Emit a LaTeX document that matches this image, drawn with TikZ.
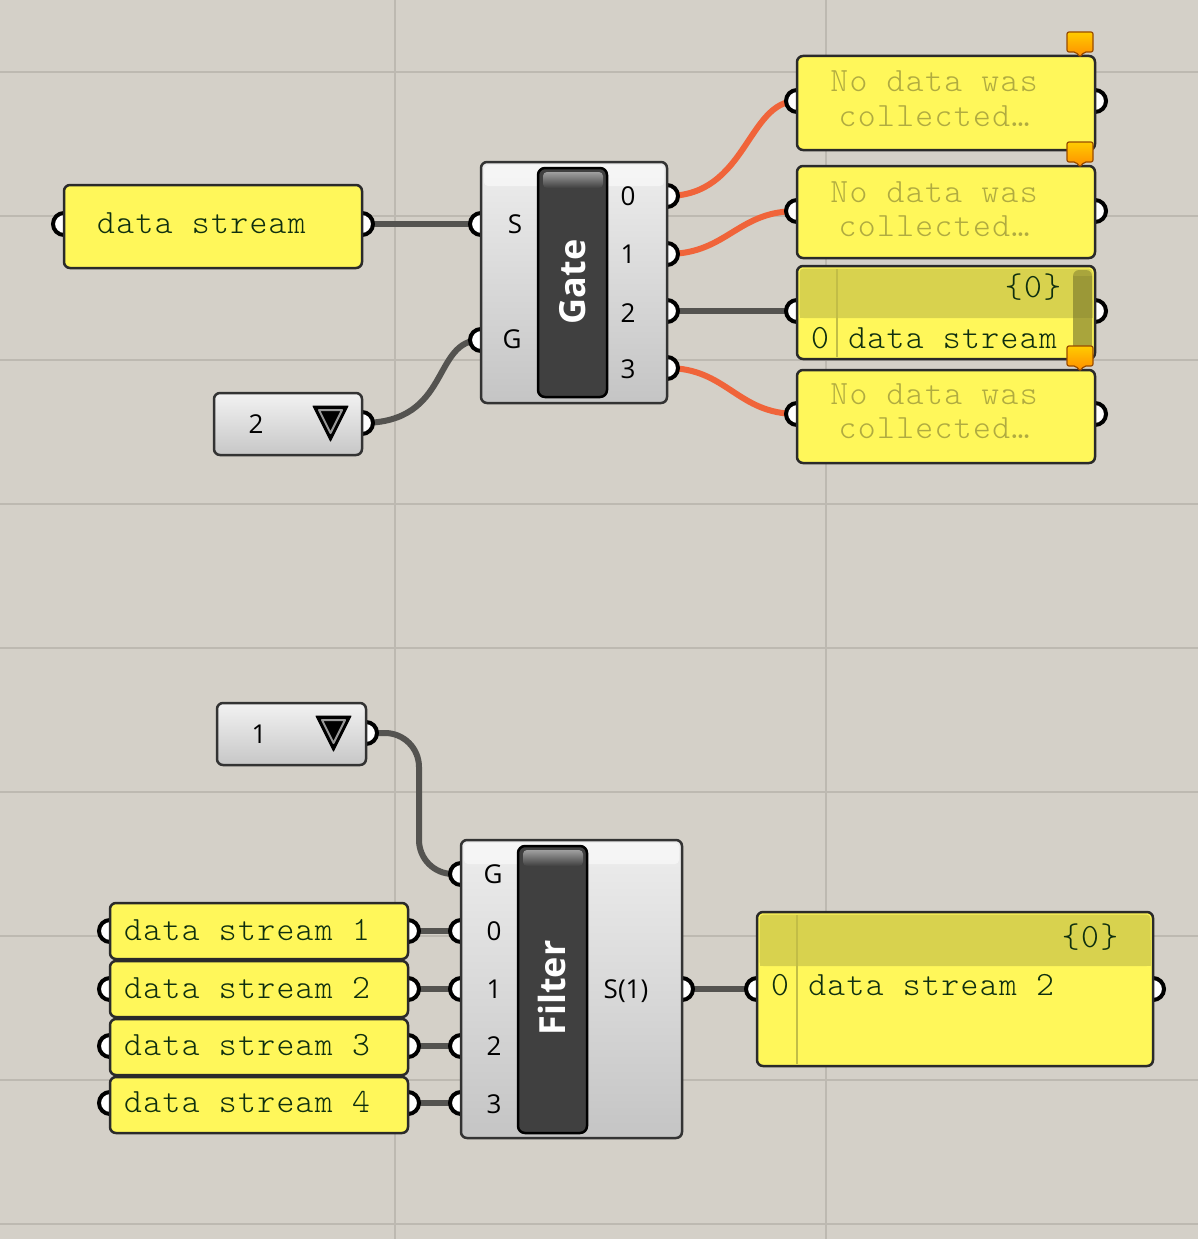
\documentclass[tikz,border=0pt]{standalone}
\usepackage{fontspec}
\setsansfont{Open Sans}
\newfontfamily\pmono{lmmonolt10-regular.otf}[LetterSpace=4]
\definecolor{bg}{HTML}{D4D0C8}
\definecolor{gridc}{HTML}{BDB9B1}
\definecolor{pyellow}{HTML}{FFF75A}
\definecolor{phdr}{HTML}{D8D24E}
\definecolor{pborder}{HTML}{2A2A2A}
\definecolor{ptxt}{HTML}{0F2F0F}
\definecolor{nodata}{HTML}{B0AB40}
\definecolor{cborder}{HTML}{333333}
\definecolor{barc}{HTML}{404040}
\definecolor{wgrey}{HTML}{545350}
\definecolor{worange}{HTML}{F0643A}
\definecolor{scroll}{HTML}{A9A53C}
\newcommand{\pmonofont}{\pmono\fontsize{34}{40}\selectfont}
\tikzset{
  panelbox/.style={draw=pborder, line width=2.5pt, fill=pyellow, rounded corners=6pt, inner sep=0pt},
  compbox/.style={draw=cborder, line width=2.5pt, top color=white!93!black, bottom color=white!77!black, rounded corners=6pt, inner sep=0pt},
  valbox/.style={draw=cborder, line width=2.5pt, top color=white!95!black, bottom color=white!78!black, rounded corners=6pt, inner sep=0pt},
  barbox/.style={draw=black, line width=2.5pt, fill=barc, rounded corners=7pt, inner sep=0pt},
  grip/.style={circle, draw=black, fill=white, line width=4pt, minimum size=22pt, inner sep=0pt},
  wire/.style={line width=6pt, wgrey},
  owire/.style={line width=6pt, worange},
  pinlbl/.style={font=\sffamily\fontsize{26}{30}\selectfont, text=black, inner sep=0pt, anchor=base},
  ttlbl/.style={font=\pmonofont, text=ptxt, inner sep=0pt},
  ndlbl/.style={font=\pmonofont, text=nodata, inner sep=0pt, anchor=base},
  titlelbl/.style={font=\sffamily\bfseries\fontsize{36}{40}\selectfont, text=white, rotate=90, inner sep=0pt},
  balloon/.style={draw=orange!60!black, line width=1.2pt, top color=yellow!60!orange, bottom color=orange!90!yellow, rounded corners=2pt},
}
\begin{document}
\begin{tikzpicture}[x=1pt,y=-1pt]
% canvas
\fill[bg] (0,0) rectangle (1198,1239);
\useasboundingbox (0,0) rectangle (1198,1239);
\foreach \yy in {72,216,360,504,648,792,936,1080,1224}
  \draw[gridc, line width=2pt] (0,\yy) -- (1198,\yy);
\foreach \xx in {395,826}
  \draw[gridc, line width=2pt] (\xx,0) -- (\xx,1239);

% grip coordinates
\coordinate (dsin) at (64,224);
\coordinate (dsout) at (362,224);
\coordinate (gS) at (481,224);
\coordinate (gG) at (481,340);
\coordinate (gO0) at (667,196);
\coordinate (gO1) at (667,254);
\coordinate (gO2) at (667,311);
\coordinate (gO3) at (667,368);
\coordinate (v2out) at (362,423);
\coordinate (pAin) at (797,101);
\coordinate (pAout) at (1095,101);
\coordinate (pBin) at (797,211);
\coordinate (pBout) at (1095,211);
\coordinate (pCin) at (797,311);
\coordinate (pCout) at (1095,311);
\coordinate (pDin) at (797,414);
\coordinate (pDout) at (1095,414);
\coordinate (v1out) at (366,733);
\coordinate (fG) at (461,874);
\coordinate (f0) at (461,931);
\coordinate (f1) at (461,989);
\coordinate (f2) at (461,1046);
\coordinate (f3) at (461,1103);
\coordinate (fout) at (682,989);
\coordinate (d1in) at (110,931);
\coordinate (d1out) at (408,931);
\coordinate (d2in) at (110,989);
\coordinate (d2out) at (408,989);
\coordinate (d3in) at (110,1046);
\coordinate (d3out) at (408,1046);
\coordinate (d4in) at (110,1103);
\coordinate (d4out) at (408,1103);
\coordinate (rin) at (757,989);
\coordinate (rout) at (1153,989);

% wires
\draw[wire] (dsout) -- (gS);
\draw[wire] (v2out) .. controls +(90,0) and +(-50,0) .. (gG);
\draw[owire] (gO0) .. controls +(80,0) and +(-50,0) .. (pAin);
\draw[owire] (gO1) .. controls +(60,0) and +(-60,0) .. (pBin);
\draw[wire] (gO2) -- (pCin);
\draw[owire] (gO3) .. controls +(60,0) and +(-60,0) .. (pDin);
\draw[wire, rounded corners=34pt] (v1out) -- ++(53,0) |- (fG);
\draw[wire] (d1out) -- (f0);
\draw[wire] (d2out) -- (f1);
\draw[wire] (d3out) -- (f2);
\draw[wire] (d4out) -- (f3);
\draw[wire] (fout) -- (rin);

% grips
\foreach \g in {dsin,dsout,gS,gG,gO0,gO1,gO2,gO3,v2out,pAin,pAout,pBin,pBout,pCin,pCout,pDin,pDout,v1out,fG,f0,f1,f2,f3,fout,d1in,d1out,d2in,d2out,d3in,d3out,d4in,d4out,rin,rout}
  \node[grip] (grip-\g) at (\g) {};

% ---------- top part ----------
\node[panelbox, minimum width=298pt, minimum height=83pt] (ds) at (213,226.5) {};
\node[ttlbl, anchor=base west] (dstxt) at (97,233) {data stream};

\node[compbox, minimum width=186pt, minimum height=241pt] (gate) at (574,282.5) {};
\fill[white, opacity=0.5, rounded corners=4pt] (484,165) rectangle (664,186);
\node[barbox, minimum width=69pt, minimum height=229pt] (gatebar) at (572.5,282.5) {};
\shade[top color=gray!75, bottom color=barc, rounded corners=4pt] (543,172) rectangle (603,188);
\node[titlelbl] (gatetitle) at (573,282) {Gate};
\node[pinlbl] (lS) at (515,233) {S};
\node[pinlbl] (lG) at (512,348) {G};
\node[pinlbl] (l0) at (628,205) {0};
\node[pinlbl] (l1) at (628,263) {1};
\node[pinlbl] (l2) at (628,322) {2};
\node[pinlbl] (l3) at (628,378) {3};

\node[valbox, minimum width=148pt, minimum height=62pt] (val2) at (288,424) {};
\node[pinlbl] (val2txt) at (256,433) {2};
\filldraw[black, line width=1pt, line join=round] (313,406) -- (348,406) -- (330.5,441) -- cycle;
\draw[gray!80, line width=2pt, line join=round] (319,410) -- (342,410) -- (330.5,433) -- cycle;

% panel A
\node[panelbox, minimum width=298pt, minimum height=94pt] (pA) at (946,103) {};
\node[ndlbl] (pAt1) at (934,92) {No data was};
\node[ndlbl] (pAt2) at (934,126) {collected\ldots};
% panel B
\node[panelbox, minimum width=298pt, minimum height=92pt] (pB) at (946,212) {};
\node[ndlbl] (pBt1) at (934,202) {No data was};
\node[ndlbl] (pBt2) at (934,236) {collected\ldots};
% panel C
\node[panelbox, minimum width=298pt, minimum height=93pt] (pC) at (946,312.5) {};
\fill[phdr, rounded corners=4pt] (799.5,268.5) -- (1092.5,268.5) -- (1092.5,318) -- (799.5,318) -- cycle;
\fill[phdr] (799.5,300) rectangle (1092.5,318);
\draw[phdr!90!black, line width=2pt] (837,269) -- (837,357);
\fill[scroll, rounded corners=6pt] (1073,270) rectangle (1092,355);
\fill[black, opacity=0.08] (1073,276) rectangle (1092,318);
\node[ttlbl, anchor=base] (pChdr) at (1033,297) {\{0\}};
\node[ttlbl, anchor=base west] (pCtxt) at (811,348) {0 data stream};
% panel D
\node[panelbox, minimum width=298pt, minimum height=93pt] (pD) at (946,416.5) {};
\node[ndlbl] (pDt1) at (934,404) {No data was};
\node[ndlbl] (pDt2) at (934,438) {collected\ldots};

% balloons
\path[balloon] (1067,32) -- (1093,32) -- (1093,52) -- (1084,52) -- (1080,57) -- (1076,52) -- (1067,52) -- cycle;
\path[balloon] (1067,142) -- (1093,142) -- (1093,162) -- (1084,162) -- (1080,167) -- (1076,162) -- (1067,162) -- cycle;
\path[balloon] (1067,346) -- (1093,346) -- (1093,366) -- (1084,366) -- (1080,371) -- (1076,366) -- (1067,366) -- cycle;

% ---------- bottom part ----------
\node[valbox, minimum width=149pt, minimum height=62pt] (val1) at (291.5,734) {};
\node[pinlbl] (val1txt) at (259,743) {1};
\filldraw[black, line width=1pt, line join=round] (316,716) -- (351,716) -- (333.5,751) -- cycle;
\draw[gray!80, line width=2pt, line join=round] (322,720) -- (345,720) -- (333.5,743) -- cycle;

\node[compbox, minimum width=221pt, minimum height=298pt] (filter) at (571.5,989) {};
\fill[white, opacity=0.5, rounded corners=4pt] (464,843) rectangle (679,864);
\node[barbox, minimum width=69pt, minimum height=287pt] (filterbar) at (552.5,989.5) {};
\shade[top color=gray!75, bottom color=barc, rounded corners=4pt] (523,850) rectangle (583,866);
\node[titlelbl] (filtertitle) at (552,988) {Filter};
\node[pinlbl] (fl1) at (493,883) {G};
\node[pinlbl] (fl2) at (494,940) {0};
\node[pinlbl] (fl3) at (494,998) {1};
\node[pinlbl] (fl4) at (494,1055) {2};
\node[pinlbl] (fl5) at (494,1113) {3};
\node[pinlbl] (flo) at (626,998) {S(1)};

\node[panelbox, minimum width=298pt, minimum height=56pt] (ds1) at (259,931) {};
\node[ttlbl, anchor=base west] (ds1t) at (124,940) {data stream 1};
\node[panelbox, minimum width=298pt, minimum height=56pt] (ds2) at (259,989) {};
\node[ttlbl, anchor=base west] (ds2t) at (124,998) {data stream 2};
\node[panelbox, minimum width=298pt, minimum height=56pt] (ds3) at (259,1047) {};
\node[ttlbl, anchor=base west] (ds3t) at (124,1055) {data stream 3};
\node[panelbox, minimum width=298pt, minimum height=56pt] (ds4) at (259,1105) {};
\node[ttlbl, anchor=base west] (ds4t) at (124,1112) {data stream 4};

\node[panelbox, minimum width=396pt, minimum height=154pt] (res) at (955,989) {};
\fill[phdr, rounded corners=4pt] (759.5,914.5) -- (1150.5,914.5) -- (1150.5,966) -- (759.5,966) -- cycle;
\fill[phdr] (759.5,940) rectangle (1150.5,966);
\draw[phdr!90!black, line width=2pt] (797,915) -- (797,1064);
\node[ttlbl, anchor=base] (reshdr) at (1090,947) {\{0\}};
\node[ttlbl, anchor=base west] (restxt) at (771,995) {0 data stream 2};
\end{tikzpicture}
\end{document}
